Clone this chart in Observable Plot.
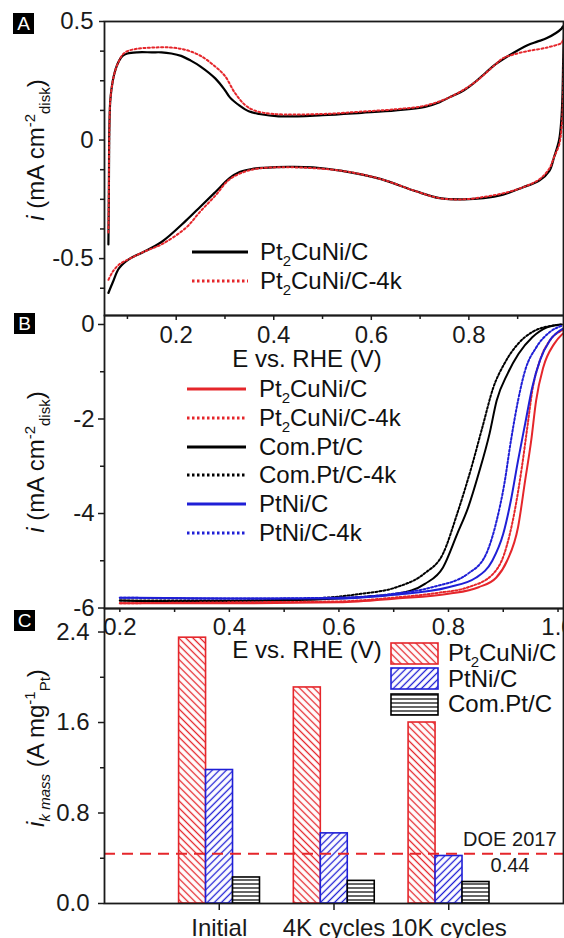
<!DOCTYPE html>
<html>
<head>
<meta charset="utf-8">
<script src="https://cdn.jsdelivr.net/npm/d3@7"></script>
<script src="https://cdn.jsdelivr.net/npm/@observablehq/plot@0.6"></script>
<style>
  body { margin: 0; background: #fff; }
  #fig { position: relative; width: 564px; height: 938px; overflow: hidden;
         font-family: "Liberation Sans", Arial, Helvetica, sans-serif; color: #111; background: #fff; }
  .t { position: absolute; white-space: nowrap; font-size: 24px; line-height: 24px; }
  .t sub { font-size: 15px; vertical-align: -6px; line-height: 0; }
  .t sup { font-size: 15px; vertical-align: 9px; line-height: 0; }
  .rot { transform: translate(-50%, -50%) rotate(-90deg); }
  .letter { position: absolute; width: 21px; height: 21px; background: #000; color: #fff;
            font-size: 19px; line-height: 21px; text-align: center; }
</style>
</head>
<body>
<div id="fig">
  <svg width="0" height="0" style="position:absolute">
    <defs>
      <pattern id="hatchRed" patternUnits="userSpaceOnUse" width="5" height="5" patternTransform="rotate(-45)">
        <rect width="5" height="5" fill="#fff"/>
        <line x1="2.5" y1="0" x2="2.5" y2="5" stroke="#e5262b" stroke-width="1.3"/>
      </pattern>
      <pattern id="hatchBlue" patternUnits="userSpaceOnUse" width="5" height="5" patternTransform="rotate(45)">
        <rect width="5" height="5" fill="#fff"/>
        <line x1="2.5" y1="0" x2="2.5" y2="5" stroke="#1f1fd6" stroke-width="1.3"/>
      </pattern>
      <pattern id="hatchBlack" patternUnits="userSpaceOnUse" width="4" height="4">
        <rect width="4" height="4" fill="#fff"/>
        <line x1="0" y1="2" x2="4" y2="2" stroke="#000" stroke-width="1.2"/>
      </pattern>
    </defs>
  </svg>
</div>
<script>
// ---------------- DATA ----------------
// Panel A: cyclic voltammograms (E vs RHE, i in mA cm-2)
const cvNames = ["Pt2CuNi/C", "Pt2CuNi/C-4k"];
const cvPt2CuNi = [
  [0.061,-0.44],[0.062,-0.2],[0.063,0.05],[0.065,0.17],[0.07,0.25],[0.076,0.30],[0.083,0.335],[0.09,0.355],
  [0.10,0.365],[0.12,0.37],[0.15,0.37],[0.17,0.37],[0.19,0.365],[0.21,0.355],[0.23,0.335],[0.25,0.31],
  [0.28,0.26],[0.30,0.21],[0.31,0.18],[0.33,0.145],[0.35,0.12],[0.37,0.11],[0.41,0.10],[0.50,0.105],
  [0.58,0.115],[0.65,0.125],[0.71,0.14],[0.74,0.16],[0.76,0.18],[0.79,0.21],[0.81,0.24],[0.835,0.285],
  [0.855,0.32],[0.885,0.36],[0.92,0.40],[0.94,0.415],[0.96,0.43],[0.99,0.47],[0.993,0.48],
  [0.993,0.3],[0.99,0.1],[0.985,0],[0.975,-0.07],[0.965,-0.13],[0.945,-0.17],[0.91,-0.20],[0.87,-0.23],
  [0.83,-0.245],[0.79,-0.25],[0.74,-0.245],[0.69,-0.215],[0.62,-0.165],[0.54,-0.13],[0.48,-0.115],
  [0.43,-0.113],[0.38,-0.117],[0.355,-0.122],[0.33,-0.135],[0.31,-0.16],[0.28,-0.22],[0.25,-0.28],
  [0.22,-0.34],[0.17,-0.43],[0.13,-0.475],[0.105,-0.50],[0.083,-0.54],[0.07,-0.60],[0.061,-0.645]
];
const cvPt2CuNi4k = [
  [0.061,-0.39],[0.062,-0.2],[0.063,0.05],[0.065,0.17],[0.07,0.25],[0.076,0.30],[0.083,0.335],[0.09,0.36],
  [0.10,0.375],[0.12,0.385],[0.15,0.39],[0.19,0.39],[0.22,0.38],[0.25,0.355],[0.28,0.31],[0.30,0.27],
  [0.32,0.20],[0.34,0.15],[0.36,0.125],[0.40,0.11],[0.50,0.11],[0.58,0.12],[0.65,0.13],[0.71,0.145],
  [0.76,0.18],[0.81,0.24],[0.855,0.32],[0.87,0.345],[0.89,0.36],[0.92,0.375],[0.96,0.39],[0.99,0.41],
  [0.993,0.42],[0.993,0.2],[0.99,0.05],[0.985,-0.02],[0.975,-0.07],[0.965,-0.12],[0.945,-0.165],
  [0.91,-0.20],[0.87,-0.225],[0.83,-0.24],[0.79,-0.25],[0.74,-0.245],[0.69,-0.215],[0.62,-0.165],
  [0.54,-0.13],[0.43,-0.115],[0.355,-0.125],[0.31,-0.165],[0.28,-0.235],[0.25,-0.30],[0.22,-0.37],
  [0.17,-0.44],[0.135,-0.47],[0.105,-0.50],[0.083,-0.525],[0.07,-0.555],[0.061,-0.59]
];
const aYTicks = [-0.5, 0, 0.5];
const aYMinor = [-0.625, -0.375, -0.25, -0.125, 0.125, 0.25, 0.375];
const aXTicks = [0.2, 0.4, 0.6, 0.8];
const aXMinor = [0.1, 0.3, 0.5, 0.7, 0.9];

// Panel B: ORR polarization curves
const lsvNames = ["Pt2CuNi/C", "Pt2CuNi/C-4k", "Com.Pt/C", "Com.Pt/C-4k", "PtNi/C", "PtNi/C-4k"];
const lsvPt2CuNi = [[0.2,-5.9],[0.4,-5.9],[0.6,-5.88],[0.705,-5.8],[0.8,-5.7],[0.855,-5.56],[0.887,-5.36],
  [0.907,-5.0],[0.927,-4.29],[0.94,-3.30],[0.951,-2.46],[0.96,-1.61],[0.973,-0.91],[0.993,-0.41],[1.009,-0.19]];
const lsvPt2CuNi4k = [[0.2,-5.9],[0.4,-5.88],[0.6,-5.86],[0.7,-5.78],[0.78,-5.68],[0.836,-5.56],[0.882,-5.27],
  [0.902,-4.85],[0.92,-4.0],[0.934,-3.02],[0.944,-2.17],[0.953,-1.40],[0.967,-0.76],[0.985,-0.34],[1.009,-0.12]];
const lsvComPt = [[0.2,-5.84],[0.3,-5.86],[0.4,-5.85],[0.5,-5.84],[0.6,-5.8],[0.65,-5.76],[0.705,-5.7],
  [0.757,-5.49],[0.79,-5.14],[0.816,-4.43],[0.836,-3.87],[0.855,-3.16],[0.875,-2.31],[0.888,-1.61],
  [0.908,-1.04],[0.928,-0.62],[0.953,-0.27],[0.98,-0.06],[1.005,0.0]];
const lsvComPt4k = [[0.2,-5.84],[0.4,-5.84],[0.55,-5.8],[0.64,-5.7],[0.705,-5.56],[0.756,-5.27],[0.79,-4.85],
  [0.816,-4.0],[0.842,-3.02],[0.862,-2.17],[0.882,-1.33],[0.902,-0.83],[0.927,-0.41],[0.953,-0.16],
  [0.993,-0.02],[1.009,0.0]];
const lsvPtNi = [[0.2,-5.78],[0.4,-5.8],[0.6,-5.8],[0.7,-5.72],[0.8,-5.56],[0.85,-5.36],[0.88,-5.0],
  [0.9,-4.43],[0.914,-3.72],[0.927,-2.88],[0.94,-2.1],[0.953,-1.33],[0.967,-0.76],[0.985,-0.34],[1.009,-0.09]];
const lsvPtNi4k = [[0.2,-5.78],[0.4,-5.8],[0.6,-5.78],[0.7,-5.7],[0.77,-5.56],[0.836,-5.27],[0.869,-4.85],
  [0.888,-4.15],[0.902,-3.37],[0.914,-2.46],[0.927,-1.61],[0.94,-0.97],[0.96,-0.49],[0.985,-0.16],[1.009,-0.02]];
const bYTicks = [-6, -4, -2, 0];
const bYMinor = [-5, -3, -1];
const bXTicks = [0.2, 0.4, 0.6, 0.8, 1.0];
const bXMinor = [0.3, 0.5, 0.7, 0.9];

// Panel C: mass activity
const stages = ["Initial", "4K cycles", "10K cycles"];
const barNames = ["Pt2CuNi/C", "PtNi/C", "Com.Pt/C"];
const ikPt2CuNi = [2.35, 1.91, 1.60];
const ikPtNi = [1.18, 0.62, 0.42];
const ikComPt = [0.23, 0.20, 0.19];
const doeTarget = 0.44;
const doeLabel = "DOE 2017";
const cYTicks = [0, 0.8, 1.6, 2.4];
const cYMinor = [0.4, 1.2, 2.0];

// ---------------- STYLE ----------------
const RED = "#e5262b", BLUE = "#1f1fd6", BLACK = "#000";
const FONT = '"Liberation Sans", Arial, Helvetica, sans-serif';
const AXIS = "#1a1a1a";
const fig = document.getElementById("fig");
const rich = s => s.replace(/Pt2/g, "Pt<sub>2</sub>");
const px = d => d[0], py = d => d[1];

function place(svg, top) {
  svg.style.position = "absolute";
  svg.style.left = "0px";
  svg.style.top = top + "px";
  fig.appendChild(svg);
}
function addDiv(html, css, cls = "t") {
  const d = document.createElement("div");
  d.className = cls;
  d.innerHTML = html;
  Object.assign(d.style, css);
  fig.appendChild(d);
  return d;
}
const baseStyle = {fontFamily: FONT, fontSize: "24px", color: AXIS, overflow: "visible", background: "transparent"};

// ---------------- PANEL A ----------------
const cvSeries = [
  {data: cvPt2CuNi, name: cvNames[0], stroke: BLACK, dash: null, w: 2.2},
  {data: cvPt2CuNi4k, name: cvNames[1], stroke: RED, dash: "2,2.4", w: 2}
];
const plotA = Plot.plot({
  width: 564, height: 370,
  marginLeft: 104, marginRight: 1, marginTop: 21, marginBottom: 55,
  style: baseStyle,
  x: {domain: [0.053, 0.994]},
  y: {domain: [-0.74, 0.5]},
  marks: [
    ...cvSeries.map(s => Plot.line(s.data, {x: px, y: py, stroke: s.stroke, strokeWidth: s.w,
      strokeDasharray: s.dash, curve: "catmull-rom", clip: true})),
    Plot.axisY({ticks: aYTicks, tickSize: 5, tickPadding: 6, tickFormat: d => String(d), label: null, strokeWidth: 1.5}),
    Plot.axisY({ticks: aYMinor, tickSize: 4, tickFormat: () => "", label: null, strokeWidth: 1.5}),
    Plot.axisX({ticks: aXTicks, tickSize: 5, tickPadding: 5, tickFormat: d => d.toFixed(1), label: null, strokeWidth: 1.5}),
    Plot.axisX({ticks: aXMinor, tickSize: 4, tickFormat: () => "", label: null, strokeWidth: 1.5}),
    Plot.frame({stroke: AXIS, strokeWidth: 1.8})
  ]
});
place(plotA, 0);

// ---------------- PANEL B ----------------
const lsvSeries = [
  {data: lsvPt2CuNi, name: lsvNames[0], stroke: RED, dash: null},
  {data: lsvPt2CuNi4k, name: lsvNames[1], stroke: RED, dash: "2,2"},
  {data: lsvComPt, name: lsvNames[2], stroke: BLACK, dash: null},
  {data: lsvComPt4k, name: lsvNames[3], stroke: BLACK, dash: "2,2"},
  {data: lsvPtNi, name: lsvNames[4], stroke: BLUE, dash: null},
  {data: lsvPtNi4k, name: lsvNames[5], stroke: BLUE, dash: "2,2"}
];
const drawOrderB = [2, 3, 0, 1, 4, 5];
const plotB = Plot.plot({
  width: 564, height: 360,
  marginLeft: 104, marginRight: 1, marginTop: 15, marginBottom: 52,
  style: baseStyle,
  x: {domain: [0.172, 1.01]},
  y: {domain: [-6.01, 0.19]},
  marks: [
    ...drawOrderB.map(k => lsvSeries[k]).map(s => Plot.line(s.data, {x: px, y: py, stroke: s.stroke,
      strokeWidth: 2, strokeDasharray: s.dash, curve: "monotone-x", clip: true})),
    Plot.axisY({ticks: bYTicks, tickSize: 6, tickPadding: 4, tickFormat: d => String(d), label: null, strokeWidth: 1.5}),
    Plot.axisY({ticks: bYMinor, tickSize: 4, tickFormat: () => "", label: null, strokeWidth: 1.5}),
    Plot.axisX({ticks: bXTicks, tickSize: 4, tickPadding: 5, tickFormat: d => d.toFixed(1), label: null, strokeWidth: 1.5}),
    Plot.axisX({ticks: bXMinor, tickSize: 4, tickFormat: () => "", label: null, strokeWidth: 1.5}),
    Plot.frame({stroke: AXIS, strokeWidth: 1.8})
  ]
});
place(plotB, 300);

// ---------------- PANEL C ----------------
const barSeries = [
  {values: ikPt2CuNi, name: barNames[0], fill: "url(#hatchRed)", stroke: RED},
  {values: ikPtNi, name: barNames[1], fill: "url(#hatchBlue)", stroke: BLUE},
  {values: ikComPt, name: barNames[2], fill: "url(#hatchBlack)", stroke: BLACK}
];
const barW = 0.235, barStart = -0.35;
const bars = barSeries.flatMap((s, j) => s.values.map((v, k) => ({stage: k + 1, j, v, s})));
const plotC = Plot.plot({
  width: 564, height: 348,
  marginLeft: 104, marginRight: 1, marginTop: 18, marginBottom: 35,
  style: baseStyle,
  x: {domain: [0, 4]},
  y: {domain: [0, 2.608]},
  marks: [
    ...barSeries.map((s, j) => Plot.rectY(bars.filter(b => b.j === j), {
      x1: b => b.stage + barStart + b.j * barW,
      x2: b => b.stage + barStart + (b.j + 1) * barW,
      y1: 0, y2: b => b.v,
      fill: s.fill, stroke: s.stroke, strokeWidth: 1.6
    })),
    Plot.ruleY([doeTarget], {stroke: RED, strokeWidth: 2, strokeDasharray: "11,7"}),
    Plot.text([doeTarget], {y: d => d, text: () => doeLabel, frameAnchor: "right", textAnchor: "end",
      dx: -7, dy: -14, fontSize: 20, fill: AXIS}),
    Plot.text([doeTarget], {y: d => d, text: d => d.toFixed(2), frameAnchor: "right", textAnchor: "end",
      dx: -34, dy: 12, fontSize: 20, fill: AXIS}),
    Plot.axisY({ticks: cYTicks, tickSize: 6, tickPadding: 9, tickFormat: d => d.toFixed(1), label: null, strokeWidth: 1.5}),
    Plot.axisY({ticks: cYMinor, tickSize: 4, tickFormat: () => "", label: null, strokeWidth: 1.5}),
    Plot.axisX({ticks: stages.map((_, k) => k + 1), tickSize: 7, tickPadding: 8,
      tickFormat: d => stages[d - 1], label: null, strokeWidth: 1.5}),
    Plot.frame({stroke: AXIS, strokeWidth: 1.8})
  ]
});
place(plotC, 590);

// ---------------- TEXT: axis titles, panel letters ----------------
addDiv('<i>i</i> (mA cm<sup>-2</sup><sub>disk</sub>)', {left: "36px", top: "150px"}, "t rot");
addDiv('<i>i</i> (mA cm<sup>-2</sup><sub>disk</sub>)', {left: "36px", top: "462px"}, "t rot");
addDiv('<i>i</i><sub><i>k mass</i></sub> (A mg<sup>-1</sup><sub>Pt</sub>)', {left: "36px", top: "748px"}, "t rot");
addDiv('E vs. RHE (V)', {left: "307px", top: "347px", transform: "translateX(-50%)"});
addDiv('E vs. RHE (V)', {left: "307px", top: "638px", transform: "translateX(-50%)"});
[["A", 13, 13], ["B", 14, 313], ["C", 14, 610]].forEach(([l, x, y]) =>
  addDiv(l, {left: x + "px", top: y + "px"}, "letter"));

// ---------------- LEGENDS ----------------
function lineSwatch(left, cy, len, stroke, dash, w) {
  const ns = "http://www.w3.org/2000/svg";
  const svg = document.createElementNS(ns, "svg");
  svg.setAttribute("width", len); svg.setAttribute("height", 10);
  Object.assign(svg.style, {position: "absolute", left: left + "px", top: (cy - 5) + "px"});
  const ln = document.createElementNS(ns, "line");
  ln.setAttribute("x1", 0); ln.setAttribute("x2", len); ln.setAttribute("y1", 5); ln.setAttribute("y2", 5);
  ln.setAttribute("stroke", stroke); ln.setAttribute("stroke-width", w);
  if (dash) ln.setAttribute("stroke-dasharray", dash);
  svg.appendChild(ln);
  fig.appendChild(svg);
}
function rectSwatch(left, cy, wd, ht, fill, stroke) {
  const ns = "http://www.w3.org/2000/svg";
  const svg = document.createElementNS(ns, "svg");
  svg.setAttribute("width", wd + 2); svg.setAttribute("height", ht + 2);
  Object.assign(svg.style, {position: "absolute", left: (left - 1) + "px", top: (cy - ht / 2 - 1) + "px"});
  const r = document.createElementNS(ns, "rect");
  r.setAttribute("x", 1); r.setAttribute("y", 1); r.setAttribute("width", wd); r.setAttribute("height", ht);
  r.setAttribute("fill", fill); r.setAttribute("stroke", stroke); r.setAttribute("stroke-width", 1.6);
  svg.appendChild(r);
  fig.appendChild(svg);
}
// A legend
cvSeries.forEach((s, k) => {
  const cy = 252 + k * 29;
  lineSwatch(192, cy, 56, s.stroke, s.dash ? "2.5,2.5" : null, 3.2);
  addDiv(rich(s.name), {left: "260px", top: (cy - 12) + "px"});
});
// B legend
lsvSeries.forEach((s, k) => {
  const cy = 389 + k * 28.8;
  lineSwatch(187, cy, 59, s.stroke, s.dash ? "2.5,2.5" : null, 3.2);
  addDiv(rich(s.name), {left: "259px", top: (cy - 12) + "px"});
});
// C legend
barSeries.forEach((s, k) => {
  const cy = 653 + k * 25.5;
  rectSwatch(391, cy, 47, 21, s.fill, s.stroke);
  addDiv(rich(s.name), {left: "448px", top: (cy - 12) + "px"});
});
</script>
</body>
</html>
